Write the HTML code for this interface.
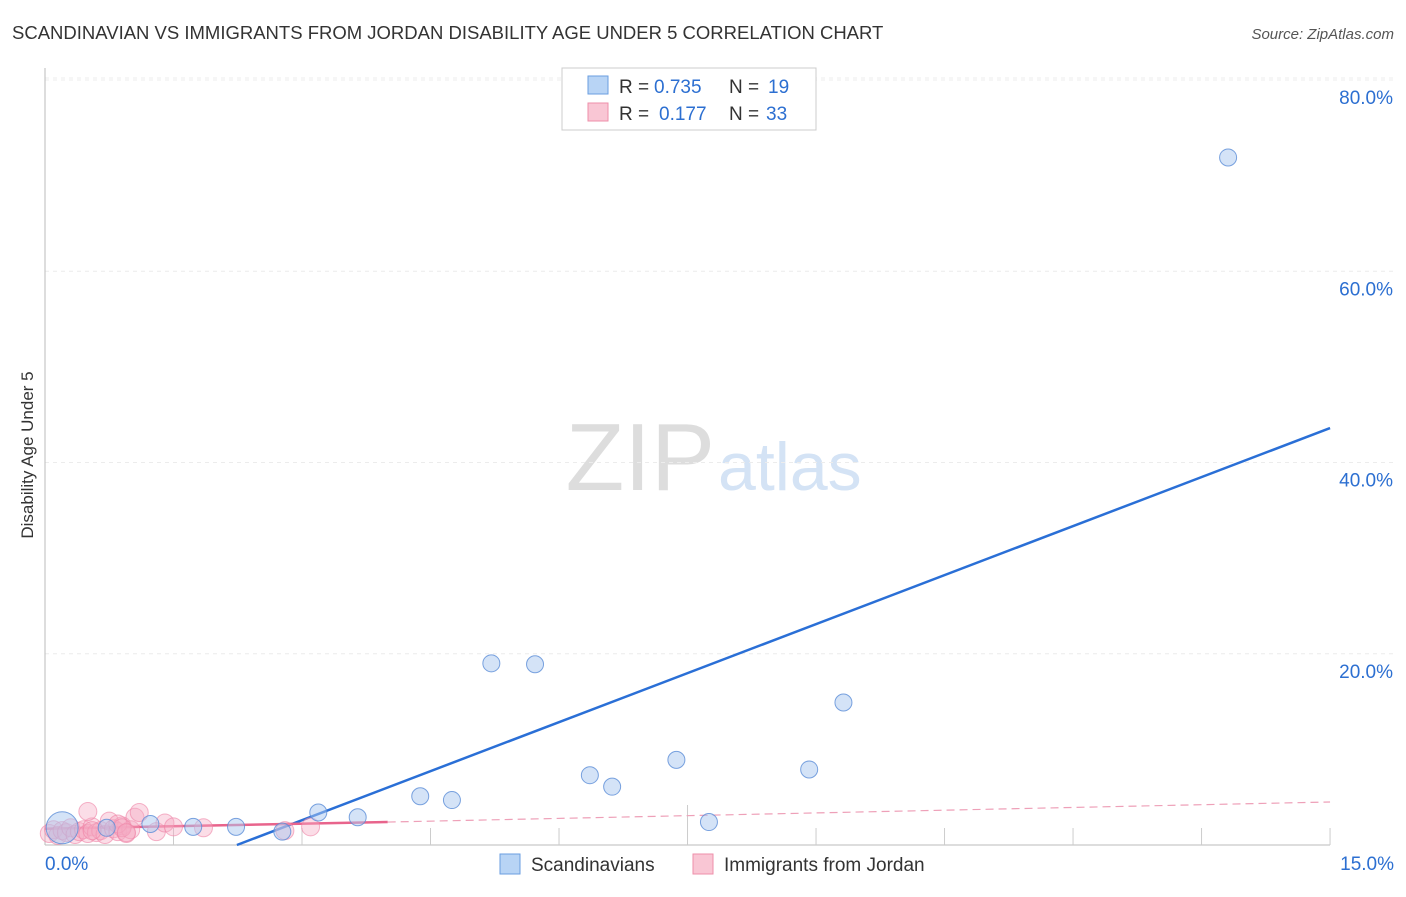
<!DOCTYPE html>
<html><head><meta charset="utf-8"><style>
body{margin:0;background:#fff;font-family:"Liberation Sans",sans-serif}
svg text{font-family:"Liberation Sans",sans-serif}
</style></head><body>
<svg width="1406" height="892" viewBox="0 0 1406 892" xmlns="http://www.w3.org/2000/svg">
<text x="12" y="39" font-size="18.5" fill="#333">SCANDINAVIAN VS IMMIGRANTS FROM JORDAN DISABILITY AGE UNDER 5 CORRELATION CHART</text>
<text x="1394" y="39" font-size="15" fill="#555" text-anchor="end" font-style="italic">Source: ZipAtlas.com</text>
<text x="33" y="455" font-size="17" fill="#333" text-anchor="middle" transform="rotate(-90 33 455)">Disability Age Under 5</text>
<text x="715" y="490" font-size="96" fill="#ddd" text-anchor="end" font-family="Liberation Serif">ZIP</text>
<text x="718" y="490" font-size="68" fill="#d4e3f5">atlas</text>
<g id="grid"></g><g id="axes"></g><g id="lines"></g><g id="pts"></g>
<g>
<rect x="562" y="68" width="254" height="62" fill="#fff" stroke="#ccc"/>
<rect x="588" y="76" width="20" height="18" fill="#b8d4f5" stroke="#6a9ee0"/>
<text x="619" y="93" font-size="19" fill="#333">R =</text>
<text x="654" y="93" font-size="19" fill="#2c6fd1">0.735</text>
<text x="729" y="93" font-size="19" fill="#333">N =</text>
<text x="768" y="93" font-size="19" fill="#2c6fd1">19</text>
<rect x="588" y="103" width="20" height="18" fill="#f9c6d4" stroke="#ee8faa"/>
<text x="619" y="120" font-size="19" fill="#333">R =</text>
<text x="659" y="120" font-size="19" fill="#2c6fd1">0.177</text>
<text x="729" y="120" font-size="19" fill="#333">N =</text>
<text x="766" y="120" font-size="19" fill="#2c6fd1">33</text>
</g>
<g>
<rect x="500" y="854" width="20" height="20" fill="#b8d4f5" stroke="#6a9ee0"/>
<text x="531" y="871" font-size="19" fill="#333">Scandinavians</text>
<rect x="693" y="854" width="20" height="20" fill="#f9c6d4" stroke="#ee8faa"/>
<text x="724" y="871" font-size="19" fill="#333">Immigrants from Jordan</text>
</g>
</svg>
<script>
const yTicks=[20,40,60,80];
const yTickLabels=["20.0%","40.0%","60.0%","80.0%"];
const xLabels=["0.0%","15.0%"];
const blueX=[0.2,0.72,1.23,1.73,2.23,2.77,3.19,3.65,4.38,4.75,5.21,5.72,6.36,6.62,7.37,7.75,8.92,9.32,13.81];
const blueY=[1.8,1.8,2.2,1.9,1.9,1.4,3.4,2.9,5.1,4.7,19.0,18.9,7.3,6.1,8.9,2.4,7.9,14.9,71.9];
const pinkX=[0.05,0.1,0.15,0.2,0.25,0.3,0.35,0.4,0.45,0.5,0.55,0.6,0.65,0.7,0.75,0.8,0.85,0.9,0.95,1.0,1.05,1.1,0.5,0.55,0.85,0.9,0.95,1.3,1.4,1.5,1.85,2.8,3.1];
const pinkY=[1.2,1.6,1.0,1.5,1.3,1.8,1.1,1.4,1.6,1.2,1.9,1.3,1.5,1.1,2.5,1.7,1.4,2.0,1.2,1.6,2.9,3.4,3.5,1.5,2.2,1.8,1.3,1.4,2.3,1.9,1.8,1.5,1.9];
const blueFit=[[2.24,0],[15,43.6]];
const pinkFit=[[0,1.7],[4.0,2.4],[15,4.5]];
const X=v=>45+v*85.67, Y=v=>845-v*9.5625;
const NS="http://www.w3.org/2000/svg";
function mk(t,a,p){const e=document.createElementNS(NS,t);for(const k in a)e.setAttribute(k,a[k]);document.getElementById(p).appendChild(e);return e;}
let l=mk('line',{x1:45,x2:1394,y1:78,y2:78,stroke:'#ececec','stroke-dasharray':'4,4'},'grid');


yTicks.forEach((t,i)=>{
 const g=mk('line',{x1:45,x2:1394,y1:Y(t),y2:Y(t),stroke:'#ececec','stroke-dasharray':'4,4'},'grid');
 
 
 const tx=mk('text',{x:1393,y:Y(t)+24,'font-size':19,fill:'#2c6fd1','text-anchor':'end'},'axes');
 tx.textContent=yTickLabels[i];
 
 
});
let a=mk('line',{x1:45,x2:45,y1:68,y2:845,stroke:'#bbb'},'axes');


a=mk('line',{x1:45,x2:1330,y1:845,y2:845,stroke:'#bbb'},'axes');


for(let i=1;i<=10;i++){
 const t=mk('line',{x1:X(i*1.5),x2:X(i*1.5),y1:845,y2:i==5?805:828,stroke:'#ccc'},'axes');
 
 
}
let xl=mk('text',{x:45,y:870,'font-size':19,fill:'#2c6fd1'},'axes');xl.textContent=xLabels[0];


xl=mk('text',{x:1394,y:870,'font-size':19,fill:'#2c6fd1','text-anchor':'end'},'axes');xl.textContent=xLabels[1];


pinkX.forEach((x,i)=>{
 const c=mk('circle',{cx:X(x),cy:Y(pinkY[i]),r:9,fill:'rgba(246,170,195,0.4)',stroke:'rgba(238,130,165,0.6)'},'pts');
 
 
});
blueX.forEach((x,i)=>{
 const c=mk('circle',{cx:X(x),cy:Y(blueY[i]),r:i==0?16:8.5,fill:'rgba(170,200,240,0.5)',stroke:'rgba(90,140,215,0.8)'},'pts');
 
 
});
let f=mk('line',{x1:X(blueFit[0][0]),y1:Y(blueFit[0][1]),x2:X(blueFit[1][0]),y2:Y(blueFit[1][1]),stroke:'#2a6fd6','stroke-width':2.5},'lines');


f=mk('line',{x1:X(pinkFit[0][0]),y1:Y(pinkFit[0][1]),x2:X(pinkFit[1][0]),y2:Y(pinkFit[1][1]),stroke:'#e8648c','stroke-width':2.5},'lines');


f=mk('line',{x1:X(pinkFit[1][0]),y1:Y(pinkFit[1][1]),x2:X(pinkFit[2][0]),y2:Y(pinkFit[2][1]),stroke:'#eea0b8','stroke-width':1.2,'stroke-dasharray':'8,5'},'lines');


</script>
</body></html>
